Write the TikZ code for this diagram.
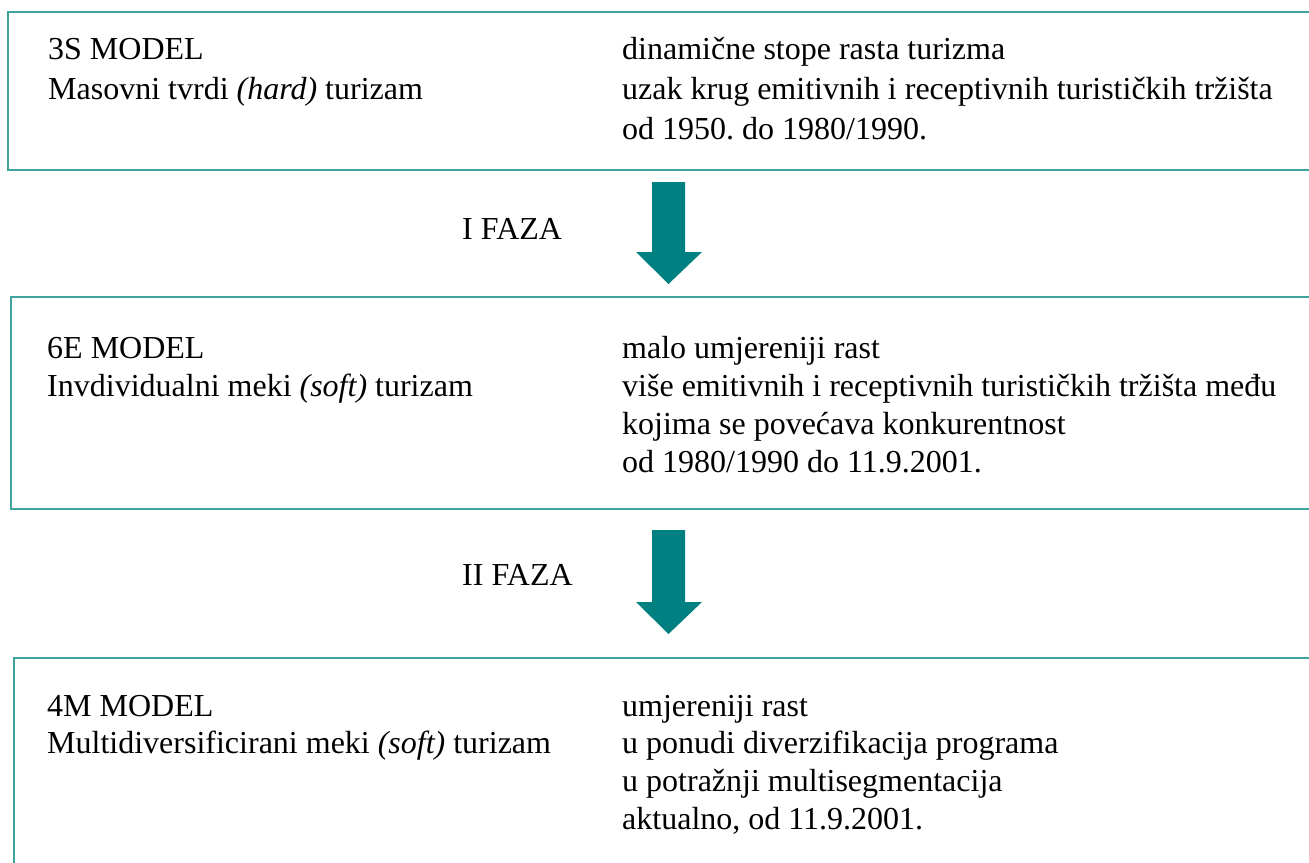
\documentclass[tikz,border=0pt]{standalone}
\usepackage{fontspec}
\setmainfont{Liberation Serif}
\frenchspacing
\begin{document}
\begin{tikzpicture}[x=1pt,y=-1pt,
  boxline/.style={draw=boxteal,line width=1.5pt},
  txt/.style={anchor=base west,inner sep=0pt,font=\fontsize{32}{38}\selectfont},
  bigarrow/.style={fill=arrteal,draw=none}]
\definecolor{boxteal}{HTML}{3FA39E}
\definecolor{arrteal}{HTML}{008080}
\useasboundingbox (0,0) rectangle (1309,862);
\fill[white] (0,0) rectangle (1309,862);
\clip (0,0) rectangle (1309,862);
% boxes
\draw[boxline] (1330,12) -- (8,12) -- (8,170) -- (1330,170);
\draw[boxline] (1330,297) -- (11,297) -- (11,509) -- (1330,509);
\draw[boxline] (1330,658) -- (14,658) -- (14,880);
% box 1
\node[txt] (b1l1) at (48,59) {3S MODEL};
\node[txt] (b1l2) at (48,99) {Masovni tvrdi \textit{(hard)} turizam};
\node[txt] (b1r1) at (622,59) {dinamične stope rasta turizma};
\node[txt] (b1r2) at (622,99) {uzak krug emitivnih i receptivnih turističkih tržišta};
\node[txt] (b1r3) at (622,139) {od 1950. do 1980/1990.};
% phase 1
\node[txt] (f1) at (462,239) {I FAZA};
\fill[bigarrow] (652,182) -- (685,182) -- (685,252) -- (702,252) -- (668.5,284) -- (636,252) -- (652,252) -- cycle;
% box 2
\node[txt] (b2l1) at (47,358) {6E MODEL};
\node[txt] (b2l2) at (47,396) {Invdividualni meki \textit{(soft)} turizam};
\node[txt] (b2r1) at (622,358) {malo umjereniji rast};
\node[txt] (b2r2) at (622,396) {više emitivnih i receptivnih turističkih tržišta među};
\node[txt] (b2r3) at (622,434) {kojima se povećava konkurentnost};
\node[txt] (b2r4) at (622,472) {od 1980/1990 do 11.9.2001.};
% phase 2
\node[txt] (f2) at (462,585) {II FAZA};
\fill[bigarrow] (652,530) -- (685,530) -- (685,602) -- (702,602) -- (668.5,634) -- (636,602) -- (652,602) -- cycle;
% box 3
\node[txt] (b3l1) at (47,716) {4M MODEL};
\node[txt] (b3l2) at (47,753) {Multidiversificirani meki \textit{(soft)} turizam};
\node[txt] (b3r1) at (622,716) {umjereniji rast};
\node[txt] (b3r2) at (622,753) {u ponudi diverzifikacija programa};
\node[txt] (b3r3) at (622,791) {u potražnji multisegmentacija};
\node[txt] (b3r4) at (622,829) {aktualno, od 11.9.2001.};
\end{tikzpicture}
\end{document}
